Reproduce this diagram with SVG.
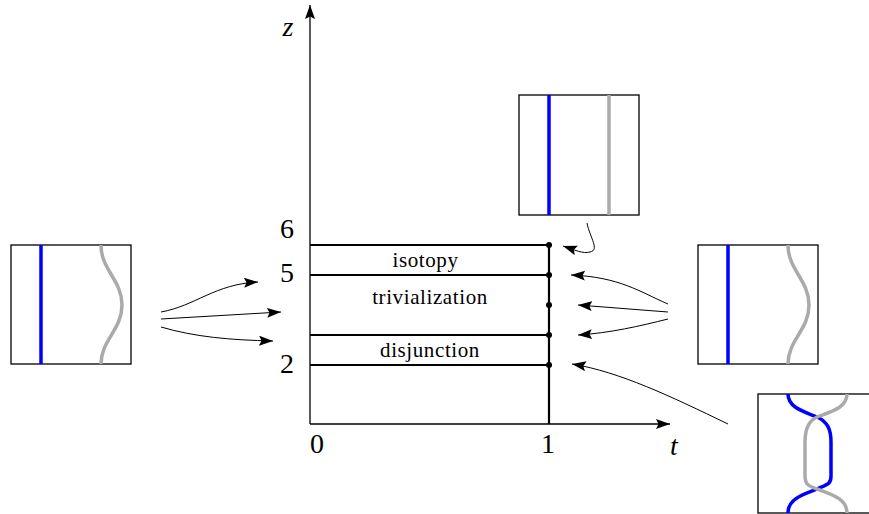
<svg xmlns="http://www.w3.org/2000/svg" width="869" height="514" viewBox="0 0 869 514">
<defs>
<marker id="ah" markerWidth="16" markerHeight="12" refX="14" refY="5" orient="auto" markerUnits="userSpaceOnUse">
<path d="M14,5 L0,0 L2.5,5 L0,10 Z" fill="#000"/>
</marker>
</defs>
<style>
.box{fill:#fff;stroke:#000;stroke-width:1.3}
.blue{fill:none;stroke:#0000ff;stroke-width:3.5}
.gray{fill:none;stroke:#aaaaaa;stroke-width:3.5}
.conn{fill:none;stroke:#000;stroke-width:1}
.axis{fill:none;stroke:#000;stroke-width:1.3}
.thick{fill:none;stroke:#000;stroke-width:2.2}
.big{font-family:"Liberation Serif","DejaVu Serif",serif;font-size:28px;fill:#000}
.lbl{font-family:"Liberation Serif","DejaVu Serif",serif;font-size:21px;letter-spacing:0.6px;fill:#000;text-anchor:middle}
.it{font-style:italic}
</style>
<rect width="869" height="514" fill="#fff"/>
<g id="axes">
<path class="axis" d="M310,424 L310,5" marker-end="url(#ah)"/>
<path class="axis" d="M310,424 L670,424" marker-end="url(#ah)"/>
<text class="big it" x="288" y="36" text-anchor="middle">z</text>
<text class="big it" x="674" y="455" text-anchor="middle">t</text>
<text class="big" x="317" y="453" text-anchor="middle">0</text>
<text class="big" x="548" y="453" text-anchor="middle" font-size="25">1</text>
<text class="big" x="287" y="238" text-anchor="middle">6</text>
<text class="big" x="287" y="282" text-anchor="middle">5</text>
<text class="big" x="287" y="373" text-anchor="middle">2</text>
</g>
<g id="levels">
<path class="thick" d="M310,245 H549 M310,275 H549 M310,335 H549 M310,365 H549 M549,245 V424"/>
<circle cx="549" cy="245" r="3"/>
<circle cx="549" cy="275" r="3"/>
<circle cx="549" cy="305" r="3"/>
<circle cx="549" cy="335" r="3"/>
<circle cx="549" cy="365" r="3"/>
<text class="lbl" x="425.5" y="267">isotopy</text>
<text class="lbl" x="430" y="304">trivialization</text>
<text class="lbl" x="430" y="357">disjunction</text>
</g>
<g id="box-left">
<rect class="box" x="11" y="245" width="120" height="119"/>
<path class="blue" d="M41,245 V364"/>
<path class="gray" d="M101,245 C101,270 122,280 122,305 C122,330 101,340 101,364"/>
</g>
<g id="box-top">
<rect class="box" x="519" y="95" width="120" height="120"/>
<path class="blue" d="M549,95 V215"/>
<path class="gray" d="M609,95 V215"/>
</g>
<g id="box-right">
<rect class="box" x="698" y="245" width="120" height="119"/>
<path class="blue" d="M728,245 V364"/>
<path class="gray" d="M788,245 C788,270 809,280 809,305 C809,330 788,340 788,364"/>
</g>
<g id="box-bottom">
<rect class="box" x="758" y="394" width="120" height="119"/>
<path class="blue" d="M788,394 C788,408 805,412 817,417 C828,422 831,430 831,442 V476 C831,484 828,484 817,489 C805,494 788,498 788,513"/>
<path class="gray" d="M847,394 C847,408 830,412 817,417 C808,421 805,430 805,442 V476 C805,484 808,486 817,489 C830,494 847,498 847,513"/>
</g>
<g id="connectors">
<path class="conn" d="M161,312 C195,306 215,284 258,282" marker-end="url(#ah)"/>
<path class="conn" d="M161,319 L281,312" marker-end="url(#ah)"/>
<path class="conn" d="M161,327 C195,337 230,340 273,341" marker-end="url(#ah)"/>
<path class="conn" d="M668,304 C640,292 620,277 571,275" marker-end="url(#ah)"/>
<path class="conn" d="M668,312 L578,305" marker-end="url(#ah)"/>
<path class="conn" d="M668,319 C640,326 610,333 578,335" marker-end="url(#ah)"/>
<path class="conn" d="M728,424 C670,396 620,372 572,364" marker-end="url(#ah)"/>
<path class="conn" d="M587,223 C590,238 600,250 590,252 C583,254 575,250 563,246" marker-end="url(#ah)"/>
</g>
</svg>
